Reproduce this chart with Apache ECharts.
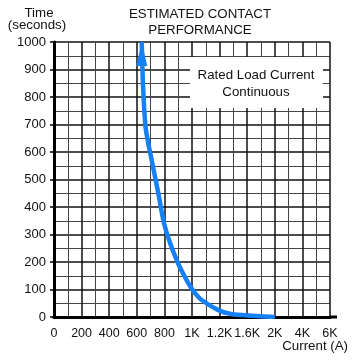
<!DOCTYPE html>
<html><head><meta charset="utf-8">
<script src="https://cdn.jsdelivr.net/npm/echarts@6/dist/echarts.min.js"></script>
<style>html,body{margin:0;padding:0;background:#fff}#c{width:360px;height:360px}</style>
</head><body><div id="c"></div>
<script>
var tickValues = [0, 200, 400, 600, 800, 1000, 1200, 1600, 2000, 4000, 6000];
var tickLabels = ['0', '200', '400', '600', '800', '1K', '1.2K', '1.6K', '2K', '4K', '6K'];
var currentA = [636, 645, 662, 680, 710, 756, 804, 889, 973, 1020, 1070, 1191, 1330, 1520, 2000];
var timeS = [1000, 844, 698, 640, 565, 450, 328, 207, 123, 88, 62, 25, 13, 7, 0];

function toPos(a) {
  for (var i = 0; i < tickValues.length - 1; i++) {
    if (a <= tickValues[i + 1]) {
      return i + (a - tickValues[i]) / (tickValues[i + 1] - tickValues[i]);
    }
  }
  return tickValues.length - 1;
}

var data = currentA.map(function (a, i) {
  var item = { value: [toPos(a), timeS[i]] };
  if (i === 0) {
    item.symbol = 'triangle';
    item.symbolSize = [11, 24];
    item.symbolOffset = [0, 12];
  }
  return item;
});

var font = 'Liberation Sans, Arial, sans-serif';
var fs = 13.3;
var chart = echarts.init(document.getElementById('c'));
chart.setOption({
  animation: false,
  grid: { left: 54, top: 42, right: 30, bottom: 43 },
  xAxis: {
    type: 'value', min: 0, max: 10, interval: 1,
    axisLine: { show: true, onZero: false, lineStyle: { color: '#000', width: 3 } },
    axisTick: { show: false },
    axisLabel: {
      margin: 10, color: '#111', fontSize: 12.5, fontFamily: font,
      formatter: function (v) { return tickLabels[Math.round(v)]; }
    },
    splitLine: { show: true, lineStyle: { color: '#111', width: 1.5 } },
    minorTick: { show: false, splitNumber: 2 },
    minorSplitLine: { show: true, lineStyle: { color: '#444', width: 1 } }
  },
  yAxis: {
    type: 'value', min: 0, max: 1000, interval: 100,
    axisLine: { show: true, lineStyle: { color: '#000', width: 3 } },
    axisTick: { show: true, length: 4, lineStyle: { color: '#000', width: 1.5 } },
    axisLabel: { margin: 8, color: '#111', fontSize: 13, fontFamily: font,
      formatter: function (v) { return String(v); } },
    splitLine: { show: true, lineStyle: { color: '#111', width: 1.5 } },
    minorTick: { show: false, splitNumber: 2 },
    minorSplitLine: { show: true, lineStyle: { color: '#444', width: 1 } }
  },
  series: [{
    type: 'line', data: data, smooth: 0.35, symbol: 'none', showSymbol: true,
    itemStyle: { color: '#1681f4' },
    lineStyle: { color: '#1681f4', width: 4.5 },
    z: 5
  }],
  graphic: [
    { type: 'line', shape: { x1: 330, y1: 317, x2: 337, y2: 317 }, style: { stroke: '#000', lineWidth: 3 } },
    { type: 'rect', shape: { x: 190, y: 57, width: 133, height: 51 }, style: { fill: '#fff' }, z: 10 },
    { type: 'text', x: 256, y: 75, z: 11, style: { text: 'Rated Load Current', font: fs + 'px ' + font, fill: '#111', textAlign: 'center', textVerticalAlign: 'middle' } },
    { type: 'text', x: 256, y: 92, z: 11, style: { text: 'Continuous', font: fs + 'px ' + font, fill: '#111', textAlign: 'center', textVerticalAlign: 'middle' } },
    { type: 'text', x: 200, y: 14, style: { text: 'ESTIMATED CONTACT', font: fs + 'px ' + font, fill: '#111', textAlign: 'center', textVerticalAlign: 'middle' } },
    { type: 'text', x: 200, y: 30, style: { text: 'PERFORMANCE', font: fs + 'px ' + font, fill: '#111', textAlign: 'center', textVerticalAlign: 'middle' } },
    { type: 'text', x: 39, y: 13, style: { text: 'Time', font: fs + 'px ' + font, fill: '#111', textAlign: 'center', textVerticalAlign: 'middle' } },
    { type: 'text', x: 37, y: 25, style: { text: '(seconds)', font: fs + 'px ' + font, fill: '#111', textAlign: 'center', textVerticalAlign: 'middle' } },
    { type: 'text', x: 348, y: 346, style: { text: 'Current (A)', font: fs + 'px ' + font, fill: '#111', textAlign: 'right', textVerticalAlign: 'middle' } }
  ]
});
</script>
</body></html>
